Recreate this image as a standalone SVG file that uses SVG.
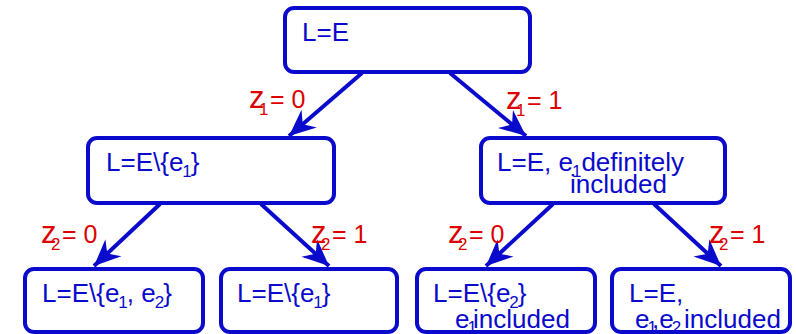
<svg xmlns="http://www.w3.org/2000/svg" width="796" height="334" viewBox="0 0 796 334">
<defs>
<style>
.box{fill:#fff;stroke:#0a0acc;stroke-width:4}
.t{font-family:"Liberation Sans",Arial,sans-serif;font-size:26px;fill:#0a0acc}
.lab{font-family:"Liberation Sans",Arial,sans-serif;font-size:25px;fill:#dd0000}
.z{font-size:31px}
.s{font-size:17px}
.edge{stroke:#0a0acc;stroke-width:4;fill:none;marker-end:url(#ah)}
</style>
<marker id="ah" markerUnits="userSpaceOnUse" markerWidth="32" markerHeight="32" viewBox="-28 -14 30 28" refX="0" refY="0" orient="auto">
<path d="M0,0 L-25,-11 L-17,0 L-25,11 Z" fill="#0a0acc"/>
</marker>
</defs>
<rect width="796" height="334" fill="#fff"/>
<g id="edges">
<line class="edge" x1="362" y1="73" x2="289" y2="136"/>
<line class="edge" x1="450" y1="73" x2="526" y2="136"/>
<line class="edge" x1="160" y1="204" x2="94" y2="266"/>
<line class="edge" x1="261" y1="204" x2="329" y2="266"/>
<line class="edge" x1="553" y1="204" x2="486" y2="266"/>
<line class="edge" x1="654" y1="204" x2="721" y2="266"/>
</g>
<g id="labels">
<text class="lab" y="108"><tspan class="z" x="249">z</tspan><tspan class="s" x="259" y="115">1</tspan><tspan x="270" y="108">= 0</tspan></text>
<text class="lab" y="109"><tspan class="z" x="506">z</tspan><tspan class="s" x="516" y="116">1</tspan><tspan x="527" y="109">= 1</tspan></text>
<text class="lab" y="243"><tspan class="z" x="41">z</tspan><tspan class="s" x="51" y="250">2</tspan><tspan x="62" y="243">= 0</tspan></text>
<text class="lab" y="243"><tspan class="z" x="311">z</tspan><tspan class="s" x="321" y="250">2</tspan><tspan x="332" y="243">= 1</tspan></text>
<text class="lab" y="243"><tspan class="z" x="448">z</tspan><tspan class="s" x="458" y="250">2</tspan><tspan x="469" y="243">= 0</tspan></text>
<text class="lab" y="243"><tspan class="z" x="709">z</tspan><tspan class="s" x="719" y="250">2</tspan><tspan x="730" y="243">= 1</tspan></text>
</g>
<g id="n0">
<rect class="box" x="285" y="8" width="245" height="64" rx="9"/>
<text class="t" x="302" y="41">L=E</text>
</g>
<g id="n1">
<rect class="box" x="88" y="138" width="246" height="65" rx="9"/>
<text class="t" x="106" y="171">L=E\{e<tspan class="s" dx="-1" dy="6">1</tspan><tspan dx="-1" dy="-6">}</tspan></text>
</g>
<g id="n2">
<rect class="box" x="481" y="138" width="244" height="65" rx="9"/>
<text class="t" x="497" y="171">L=E, e<tspan class="s" dx="-1" dy="6">1</tspan><tspan dy="-6">definitely</tspan></text>
<text class="t" x="570" y="193">included</text>
</g>
<g id="n3">
<rect class="box" x="25" y="269" width="178" height="63" rx="9"/>
<text class="t" x="42" y="302">L=E\{e<tspan class="s" dx="-1" dy="6">1</tspan><tspan dx="-1" dy="-6">, e</tspan><tspan class="s" dx="-1" dy="6">2</tspan><tspan dx="-1" dy="-6">}</tspan></text>
</g>
<g id="n4">
<rect class="box" x="221" y="269" width="176" height="63" rx="9"/>
<text class="t" x="237" y="302">L=E\{e<tspan class="s" dx="-1" dy="6">1</tspan><tspan dx="-1" dy="-6">}</tspan></text>
</g>
<g id="n5">
<rect class="box" x="417" y="269" width="178" height="63" rx="9"/>
<text class="t" x="433" y="302">L=E\{e<tspan class="s" dx="-1" dy="6">2</tspan><tspan dx="-1" dy="-6">}</tspan></text>
<text class="t" x="455" y="328">e<tspan class="s" dx="-2" dy="5">1</tspan><tspan x="473" dy="-5">included</tspan></text>
</g>
<g id="n6">
<rect class="box" x="612" y="269" width="178" height="63" rx="9"/>
<text class="t" x="629" y="302">L=E,</text>
<text class="t" x="635" y="328">e<tspan class="s" dx="-2" dy="5">1</tspan><tspan x="652" dy="-5">,e</tspan><tspan class="s" dx="-2" dy="5">2</tspan><tspan x="684" dy="-5">included</tspan></text>
</g>
</svg>
